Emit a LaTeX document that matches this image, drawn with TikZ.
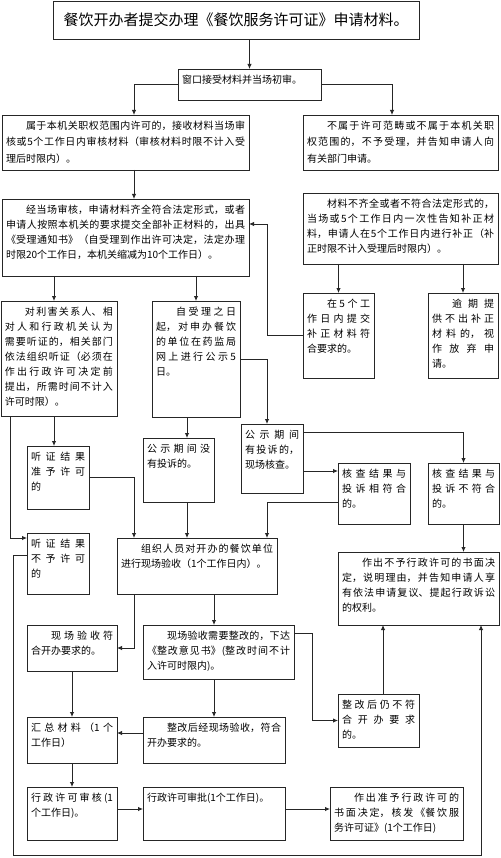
\documentclass[tikz,border=0pt]{standalone}
\usepackage{fontspec}
\setmainfont{Noto Sans CJK SC}
\usetikzlibrary{arrows.meta}
\XeTeXlinebreaklocale "zh"
\XeTeXlinebreakskip=0pt plus 4pt
\tolerance=10000
\hbadness=10000
\hfuzz=20pt
\newcommand{\ind}{\hspace*{2em}}
\newcommand{\nl}{\linebreak}
\newcommand{\mybox}[6]{%
  \pgfmathsetmacro{\bw}{#4-#2-8}%
  \pgfmathsetmacro{\bh}{#5-#3-12}%
  \node[bx] (#1) at (#2,#3) {\parbox[t][\bh pt][t]{\bw pt}{#6}};}
\begin{document}
\begin{tikzpicture}[x=1pt,y=-1pt,
  bx/.style={draw=black!85, line width=0.9pt, anchor=north west, inner xsep=4pt, inner ysep=6pt, outer sep=0pt, font=\fontsize{10}{15}\selectfont},
  arr/.style={draw=black!85, line width=0.9pt, -{Latex[length=5pt,width=4.5pt]}},
  ln/.style={draw=black!85, line width=0.9pt}]
\useasboundingbox[fill=white] (0,0) rectangle (500,858);

\node[draw=black!85, line width=0.9pt, minimum width=366pt, minimum height=38pt, inner sep=0pt, font=\fontsize{15}{18}\selectfont] (title) at (236,20) {餐饮开办者提交办理《餐饮服务许可证》申请材料。};

\mybox{win}{178}{69}{321}{100}{窗口接受材料并当场初审。}
\mybox{left1}{2}{115}{249}{170}{\fontsize{10}{16.5}\selectfont\ind 属于本机关职权范围内许可的，接收材料当场审\nl 核或5个工作日内审核材料（审核材料时限不计入受\nl 理后时限内）。}
\mybox{right1}{303}{115}{498}{170}{\fontsize{10}{16.5}\selectfont\ind 不属于许可范畴或不属于本机关职\nl 权范围的，不予受理，并告知申请人向\nl 有关部门申请。}
\mybox{left2}{2}{199}{249}{276}{\ind 经当场审核，申请材料齐全符合法定形式，或者\nl 申请人按照本机关的要求提交全部补正材料的，出具\nl 《受理通知书》（自受理到作出许可决定，法定办理\nl 时限20个工作日，本机关缩减为10个工作日）。}
\mybox{right2}{303}{193}{498}{264}{\ind 材料不齐全或者不符合法定形式的，\nl 当场或5个工作日内一次性告知补正材\nl 料，申请人在5个工作日内进行补正（补\nl 正时限不计入受理后时限内）。}
\mybox{fix5}{303}{293}{374}{378}{\ind 在5个工\nl 作日内提交\nl 补正材料符\nl 合要求的。}
\mybox{late}{428}{293}{498}{378}{\ind 逾期提\nl 供不出补正\nl 材料的，视\nl 作放弃申\nl 请。}
\mybox{hear}{1}{301}{117}{416}{\ind 对利害关系人、相\nl 对人和行政机关认为\nl 需要听证的，相关部门\nl 依法组织听证（必须在\nl 作出行政许可决定前\nl 提出，所需时间不计入\nl 许可时限）。}
\mybox{pub}{152}{301}{240}{417}{\ind 自受理之日\nl 起，对申办餐饮\nl 的单位在药监局\nl 网上进行公示5\nl 日。}
\mybox{hyes}{27}{446}{89}{509}{听证结果\nl 准予许可\nl 的}
\mybox{pubno}{143}{438}{214}{502}{公示期间没\nl 有投诉的。}
\mybox{comp}{241}{424}{303}{493}{公示期间\nl 有投诉的，\nl 现场核查。}
\mybox{match}{338}{463}{410}{524}{核查结果与\nl 投诉相符合\nl 的。}
\mybox{mis}{428}{463}{499}{524}{核查结果与\nl 投诉不符合\nl 的。}
\mybox{hno}{27}{533}{89}{594}{听证结果\nl 不予许可\nl 的}
\mybox{org}{117}{538}{277}{594}{\ind 组织人员对开办的餐饮单位\nl 进行现场验收（1个工作日内）。}
\mybox{reject}{338}{552}{499}{625}{\ind 作出不予行政许可的书面决\nl 定，说明理由，并告知申请人享\nl 有依法申请复议、提起行政诉讼\nl 的权利。}
\mybox{ok}{27}{625}{117}{671}{\ind 现场验收符\nl 合开办要求的。}
\mybox{rect}{143}{625}{294}{679}{\ind 现场验收需要整改的，下达\nl 《整改意见书》(整改时间不计\nl 入许可时限内)。}
\mybox{still}{338}{694}{419}{747}{整改后仍不符\nl 合开办要求\nl 的。}
\mybox{sum}{27}{717}{117}{763}{汇总材料（1个\nl 工作日）}
\mybox{fixed}{143}{717}{285}{763}{\ind 整改后经现场验收，符合\nl 开办要求的。}
\mybox{audit}{27}{787}{117}{840}{行政许可审核(1\nl 个工作日)。}
\mybox{approve}{143}{787}{285}{840}{行政许可审批(1个工作日)。}
\mybox{grant}{330}{787}{463}{840}{\ind 作出准予行政许可的\nl 书面决定，核发《餐饮服\nl 务许可证》(1个工作日)}

% connectors
\draw[arr] (win.north |- title.south) -- (win.north);
\draw[arr] (win.west) -| (134,0 |- left1.north);
\draw[arr] (win.east) -| (392,0 |- right1.north);
\draw[arr] (134,0 |- left1.south) -- (134,0 |- left2.north);
\draw[arr] (fix5.north |- right2.south) -- (fix5.north);
\draw[arr] (late.north |- right2.south) -- (late.north);
\draw[arr] (fix5.west) -| (267,224) -- (left2.east |- 0,224);
\draw[arr] (54,0 |- left2.south) -- (54,0 |- hear.north);
\draw[arr] (pub.north |- left2.south) -- (pub.north);
\draw[arr] (54,0 |- hear.south) -- (54,0 |- hyes.north);
\draw[arr] (10,0 |- hear.south) |- (hno.west |- 0,538);
\draw[arr] (hno.west |- 0,555) -- (13,555) -- (13,855) -- (481,855) -- (481,0 |- reject.south);
\draw[arr] (187,0 |- pub.south) -- (187,0 |- pubno.north);
\draw[arr] (pub.east) -| (267,0 |- comp.north);
\draw[arr] (hyes.east) -| (134,0 |- org.north);
\draw[arr] (187,0 |- pubno.south) -- (187,0 |- org.north);
\draw[arr] (comp.east |- 0,432) -| (mis.north);
\draw[arr] (comp.east |- 0,471) -- (match.west |- 0,471);
\draw[arr] (match.west |- 0,502) -| (267,0 |- org.north);
\draw[arr] (mis.south) -- (mis.south |- reject.north);
\draw[arr] (134,0 |- org.south) |- (ok.east);
\draw[arr] (214,0 |- org.south) -- (214,0 |- rect.north);
\draw[arr] (rect.east |- 0,633) -| (312,0 |- still.west) -- (still.west);
\draw[arr] (383,0 |- still.north) -- (383,0 |- reject.south);
\draw[arr] (214,0 |- rect.south) -- (214,0 |- fixed.north);
\draw[arr] (fixed.west |- 0,733) -- (sum.east |- 0,733);
\draw[arr] (ok.south) -- (ok.south |- sum.north);
\draw[arr] (sum.south) -- (sum.south |- audit.north);
\draw[arr] (audit.east |- 0,809) -- (approve.west |- 0,809);
\draw[arr] (approve.east |- 0,809) -- (grant.west |- 0,809);
\end{tikzpicture}
\end{document}
